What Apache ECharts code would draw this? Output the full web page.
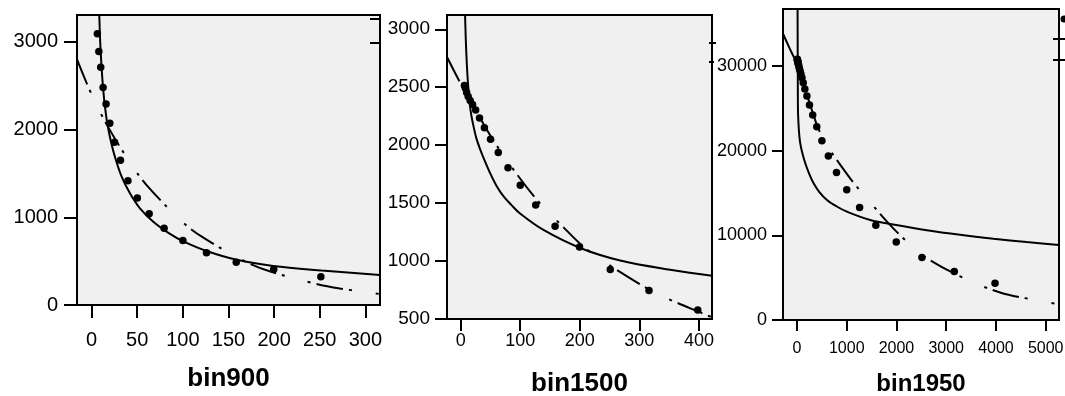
<!DOCTYPE html>
<html>
<head>
<meta charset="utf-8">
<script src="https://cdn.jsdelivr.net/npm/echarts@6/dist/echarts.min.js"></script>
<style>
html,body{margin:0;padding:0;background:#fff;}
#chart{width:1065px;height:396px;}
</style>
</head>
<body>
<div id="chart"></div>
<script>
// ---------- Data ----------
const panelNames = ['bin900', 'bin1500', 'bin1950'];

// Panel 1: bin900
const p1ObsX = [6.31, 7.94, 10, 12.59, 15.85, 19.95, 25.12, 31.62, 39.81, 50.12, 63.1, 79.43, 100, 125.89, 158.49, 199.53, 251.19];
const p1ObsY = [3090, 2890, 2710, 2480, 2290, 2070, 1855, 1650, 1415, 1220, 1040, 875, 735, 596, 487, 407, 323];
const p1SolidX = [7.6, 8.4, 9.5, 10.9, 12.2, 13.8, 15.5, 17.1, 20.8, 25.5, 32.9, 42, 53, 67.6, 85.9, 100.5, 126, 159, 199, 252, 316];
const p1SolidY = [3600, 3307, 2980, 2717, 2520, 2337, 2190, 2072, 1881, 1691, 1463, 1274, 1102, 950, 810, 725, 615, 515, 445, 393, 342];
const p1DashX = [-16, 0, 18, 43, 60, 99, 122, 168, 195, 245, 272, 316];
const p1DashY = [2800, 2400, 2030, 1610, 1370, 952, 770, 498, 385, 243, 188, 125];
const p1XTicks = [0, 50, 100, 150, 200, 250, 300];
const p1YTicks = [0, 1000, 2000, 3000];

// Panel 2: bin1500
const p2ObsX = [6.31, 7.94, 10, 12.59, 15.85, 19.95, 25.12, 31.62, 39.81, 50.12, 63.1, 79.43, 100, 125.89, 158.49, 199.53, 251.19, 316.23, 398.11];
const p2ObsY = [2515, 2490, 2455, 2420, 2385, 2350, 2303, 2235, 2150, 2050, 1936, 1806, 1653, 1483, 1300, 1121, 928, 746, 578];
const p2SolidX = [6.5, 7.3, 8.5, 10.1, 12, 14, 17, 21.3, 26, 32.5, 40, 49.3, 60, 71.7, 85, 99.7, 139, 200.6, 267.8, 351.8, 422];
const p2SolidY = [3300, 3136, 2920, 2720, 2550, 2420, 2285, 2168, 2065, 1965, 1870, 1760, 1650, 1560, 1485, 1410, 1268, 1113, 1005, 925, 873];
const p2DashX = [-23, 0, 16, 55, 100, 133, 170, 206, 251, 318, 352, 408, 422];
const p2DashY = [2760, 2530, 2385, 2040, 1710, 1500, 1305, 1125, 960, 750, 665, 545, 515];
const p2XTicks = [0, 100, 200, 300, 400];
const p2YTicks = [500, 1000, 1500, 2000, 2500, 3000];

// Panel 3: bin1950
const p3ObsX = [6.31, 7.94, 10, 12.59, 15.85, 19.95, 25.12, 31.62, 39.81, 50.12, 63.1, 79.43, 100, 125.89, 158.49, 199.53, 251.19, 316.23, 398.11, 501.19, 630.96, 794.33, 1000, 1258.9, 1584.9, 1995.3, 2511.9, 3162.3, 3981.1];
const p3ObsY = [30800, 30750, 30700, 30600, 30500, 30400, 30250, 30100, 29900, 29650, 29400, 29050, 28600, 28000, 27280, 26450, 25380, 24190, 22810, 21150, 19370, 17430, 15380, 13280, 11190, 9210, 7390, 5730, 4350];
const p3SolidX = [11, 14, 17, 20, 35, 50, 66, 100, 167, 250, 334, 450, 602, 800, 1004, 1472, 1994, 2610, 3280, 3948, 4618, 5268];
const p3SolidY = [39000, 33000, 28000, 24790, 22700, 21600, 20860, 19900, 18500, 17200, 16140, 15100, 14170, 13400, 12790, 11810, 11215, 10600, 10060, 9600, 9200, 8860];
const p3DashX = [-281, -150, 0, 100, 200, 316, 402, 500, 636, 850, 1138, 1500, 1874, 2240, 2610, 3350, 4083, 4700, 5268];
const p3DashY = [33800, 32100, 30200, 28500, 26600, 24500, 23000, 21700, 20300, 18500, 16207, 13700, 11200, 9100, 7313, 4950, 3250, 2450, 1858];
const p3XTicks = [0, 1000, 2000, 3000, 4000, 5000];
const p3YTicks = [0, 10000, 20000, 30000];

// ---------- Chart ----------
const FONT = '"Liberation Sans", Arial, Helvetica, sans-serif';
const DASHDOT = [27, 6, 3, 24, 3, 6];
const zip = (xs, ys) => xs.map((x, i) => [x, ys[i]]);
const plain = v => String(v);

const panels = [
  { grid: {left: 77, top: 15, width: 303, height: 290},
    xr: [-16, 316], yr: [0, 3305], xt: p1XTicks, yt: p1YTicks,
    xfs: 20, yfs: 20, xm: 25, ym: 19, tl: 13, nfs: 26, ng: 61,
    obs: zip(p1ObsX, p1ObsY), solid: zip(p1SolidX, p1SolidY), dash: zip(p1DashX, p1DashY) },
  { grid: {left: 447, top: 15, width: 265, height: 304},
    xr: [-23, 422], yr: [500, 3123], xt: p2XTicks, yt: p2YTicks,
    xfs: 18, yfs: 19, xm: 13, ym: 17, tl: 12, nfs: 26, ng: 52,
    obs: zip(p2ObsX, p2ObsY), solid: zip(p2SolidX, p2SolidY), dash: zip(p2DashX, p2DashY) },
  { grid: {left: 783, top: 9, width: 276, height: 311},
    xr: [-281, 5267], yr: [0, 36720], xt: p3XTicks, yt: p3YTicks,
    xfs: 16, yfs: 18, xm: 21, ym: 16, tl: 11, nfs: 24, ng: 52,
    obs: zip(p3ObsX, p3ObsY), solid: zip(p3SolidX, p3SolidY), dash: zip(p3DashX, p3DashY) }
];

const option = {
  animation: false,
  backgroundColor: '#fff',
  textStyle: { fontFamily: FONT, color: '#000' },
  grid: [], xAxis: [], yAxis: [], series: [],
  graphic: []
};

panels.forEach((p, i) => {
  option.grid.push(Object.assign({
    show: true, backgroundColor: '#f0f0f0', borderColor: '#000', borderWidth: 2,
    containLabel: false, outerBoundsMode: 'none'
  }, p.grid));
  option.xAxis.push({
    gridIndex: i, type: 'value', min: p.xr[0], max: p.xr[1],
    axisLine: { show: true, onZero: false, lineStyle: { color: '#000', width: 2 } },
    axisTick: { show: true, inside: false, length: p.tl, customValues: p.xt, lineStyle: { color: '#000', width: 2 } },
    axisLabel: { customValues: p.xt, formatter: plain, fontSize: p.xfs, color: '#000', margin: p.xm, fontFamily: FONT },
    splitLine: { show: false },
    name: panelNames[i], nameLocation: 'middle', nameGap: p.ng,
    nameTextStyle: { fontSize: p.nfs, fontWeight: 'bold', color: '#000', fontFamily: FONT }
  });
  option.yAxis.push({
    gridIndex: i, type: 'value', min: p.yr[0], max: p.yr[1],
    axisLine: { show: true, onZero: false, lineStyle: { color: '#000', width: 2 } },
    axisTick: { show: true, inside: false, length: p.tl, customValues: p.yt, lineStyle: { color: '#000', width: 2 } },
    axisLabel: { customValues: p.yt, formatter: plain, fontSize: p.yfs, color: '#000', margin: p.ym, fontFamily: FONT },
    splitLine: { show: false }
  });
  option.series.push({
    name: 'Observed', type: 'scatter', xAxisIndex: i, yAxisIndex: i,
    data: p.obs, symbol: 'circle', symbolSize: 7.5, itemStyle: { color: '#000', opacity: 1 }, z: 4, clip: true
  });
  option.series.push({
    name: 'Solid fit', type: 'line', xAxisIndex: i, yAxisIndex: i,
    data: p.solid, symbol: 'none', smooth: 0.35, clip: true,
    lineStyle: { color: '#000', width: 2 }, z: 3
  });
  option.series.push({
    name: 'Dash-dot fit', type: 'line', xAxisIndex: i, yAxisIndex: i,
    data: p.dash, symbol: 'none', smooth: 0.35, clip: true,
    lineStyle: { color: '#000', width: 2, type: DASHDOT, cap: 'butt' }, z: 3
  });
});

// clipped legend fragments at the right edge of each panel
const legendFrag = [
  [370, 381, 19], [370, 381, 43],
  [709, 716, 43], [709, 714, 62],
  [1053, 1065, 39], [1053, 1065, 60]
];
legendFrag.forEach(f => option.graphic.push({
  type: 'line', shape: { x1: f[0], y1: f[2], x2: f[1], y2: f[2] },
  style: { stroke: '#000', lineWidth: 2 }, z: 10, silent: true
}));
option.graphic.push({ type: 'circle', shape: { cx: 1064, cy: 19, r: 3.5 }, style: { fill: '#000' }, z: 10, silent: true });

const chart = echarts.init(document.getElementById('chart'), null, { renderer: 'canvas' });
chart.setOption(option);
</script>
</body>
</html>
